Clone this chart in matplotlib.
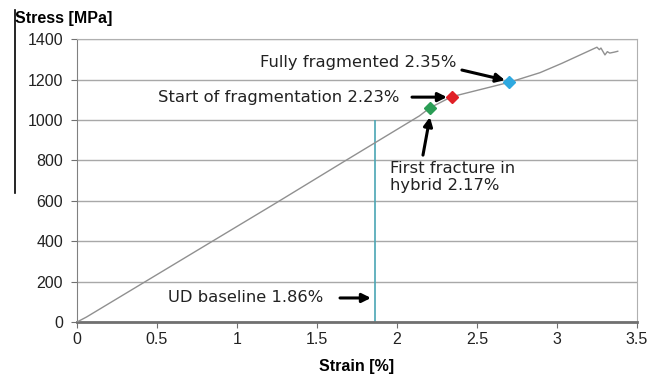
import matplotlib.pyplot as plt
from matplotlib.lines import Line2D

# stress-strain curve
strain = [0.0, 0.06, 0.83, 1.25, 1.66, 2.14, 2.206, 2.342, 2.70, 2.894, 3.03,
          3.25, 3.265, 3.275, 3.30, 3.315, 3.33, 3.36, 3.38]
stress = [0, 25, 392, 592, 790, 1020, 1060, 1115, 1186, 1234, 1280,
          1360, 1348, 1356, 1322, 1338, 1331, 1336, 1340]

pt_strain = [2.206, 2.342, 2.70]
pt_stress = [1060, 1115, 1186]
pt_colors = ['#2a9d55', '#e02027', '#2fa9e0']

baseline_strain = 1.86
baseline_top = 1000

ann_text = ['Fully fragmented 2.35%', 'Start of fragmentation 2.23%',
            'First fracture in\nhybrid 2.17%', 'UD baseline 1.86%']
ann_text_xy = [(1.144, 1286), (0.506, 1113), (1.956, 717), (0.569, 119)]
ann_tail = [(2.406, 1247), (2.094, 1113), (2.1625, 826), (1.644, 119)]
ann_head = [(2.675, 1197), (2.3125, 1113), (2.206, 1014), (1.8375, 119)]

fig = plt.figure(figsize=(6.65, 3.8), dpi=100)
ax = fig.add_axes([0.1158, 0.1526, 0.842, 0.7444])

ax.plot(strain, stress, color='#909090', linewidth=1, zorder=3)
ax.vlines(baseline_strain, 0, baseline_top, color='#4aa6b4', linewidth=1.2, zorder=2)
for x, y, c in zip(pt_strain, pt_stress, pt_colors):
    ax.plot(x, y, marker='D', markersize=6, color=c, markeredgecolor=c, zorder=5)

for t, txy, tail, head in zip(ann_text, ann_text_xy, ann_tail, ann_head):
    ax.text(txy[0], txy[1], t, fontsize=11.8, family='DejaVu Sans', color='#222222',
            va='center', ha='left', linespacing=1.15)
    ax.annotate('', xy=head, xytext=tail,
                arrowprops=dict(arrowstyle='-|>', color='black', lw=2.2,
                                mutation_scale=13, shrinkA=0, shrinkB=0))

ax.set_xlim(0, 3.5)
ax.set_ylim(0, 1400)
ax.set_xticks([0, 0.5, 1, 1.5, 2, 2.5, 3, 3.5])
ax.set_xticklabels(['0', '0.5', '1', '1.5', '2', '2.5', '3', '3.5'])
ax.set_yticks(range(0, 1401, 200))
ax.grid(axis='y', color='#a8a8a8', linewidth=1)
ax.set_axisbelow(True)
ax.tick_params(labelsize=11.5, length=4, color='#707070', labelcolor='#222222')
ax.tick_params(axis='y', pad=6)
for lbl in ax.get_xticklabels() + ax.get_yticklabels():
    lbl.set_family('Liberation Sans')

ax.spines['bottom'].set_color('#707070')
ax.spines['bottom'].set_linewidth(2)
ax.spines['left'].set_color('#808080')
ax.spines['top'].set_color('#b0b0b0')
ax.spines['right'].set_color('#b0b0b0')

ax.set_xlabel('Strain [%]', fontsize=11.5, fontweight='bold', family='Liberation Sans',
              labelpad=8)
fig.text(0.022, 0.952, 'Stress [MPa]', fontsize=11.5, fontweight='bold',
         family='Liberation Sans', va='center', ha='left')
fig.add_artist(Line2D([0.0225, 0.0225], [0.492, 0.974], color='black', linewidth=1.2))

plt.savefig('out.png', dpi=100)
